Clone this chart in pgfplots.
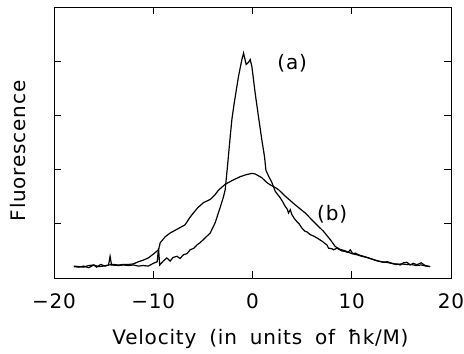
\documentclass[border=0pt]{standalone}
\usepackage{pgfplots}
\pgfplotsset{compat=1.18}
\usepackage{fontspec}
\setmainfont{DejaVu Sans}[LetterSpace=4, WordSpace=1.8]
\begin{document}
\begin{tikzpicture}
\begin{axis}[
  scale only axis, width=397pt, height=271pt,
  at={(0,0)}, anchor=south west,
  xmin=-20, xmax=20, ymin=0, ymax=5,
  xtick={-20,-10,0,10,20},
  xticklabels={−20,−10,0,10,20},
  ytick={1,2,3,4}, yticklabels={},
  tick align=inside, major tick length=7pt,
  xtick pos=both, ytick pos=both,
  axis line style={line width=0.8pt},
  every tick/.style={line width=0.8pt, black},
  font=\fontsize{20}{24}\selectfont,
  xticklabel style={inner sep=0pt, anchor=north, yshift=-15pt},
  xlabel={Velocity (in units of ħk/M)},
  ylabel={Fluorescence},
  xlabel style={at={(axis description cs:0.52,-0.247)}, anchor=base},
  ylabel style={at={(axis description cs:-0.073,0.469)}, anchor=base, rotate=0},
]
% curve (a): narrow
\addplot[black, line width=1.2pt] coordinates {
(-18,0.21) (-17.5,0.20) (-17,0.22) (-16.5,0.19) (-16,0.24) (-15.7,0.20) (-15.3,0.25) (-14.85,0.22) (-14.5,0.24) (-14.35,0.40) (-14.2,0.24) (-13.5,0.23) (-13,0.24) (-12.5,0.23) (-12,0.24) (-11.5,0.22) (-11,0.23) (-10.5,0.22) (-10,0.27) (-9.6,0.30) (-9.47,0.55) (-9.35,0.24) (-9.0,0.31) (-8.63,0.37) (-8.3,0.31) (-8.0,0.38) (-7.6,0.40) (-7.3,0.36) (-6.95,0.43) (-6.6,0.45) (-6.28,0.52) (-5.9,0.55) (-5.6,0.61) (-5.3,0.65) (-4.94,0.71) (-4.6,0.77) (-4.26,0.83) (-3.76,1.02) (-3.26,1.30) (-2.92,1.50) (-2.75,1.63) (-2.5,2.10) (-2.25,2.60) (-2.08,2.92) (-1.84,3.23) (-1.41,3.72) (-1.07,4.03) (-0.9,4.15) (-0.64,3.94) (-0.40,3.98) (-0.23,4.03) (-0.06,3.90) (0.27,3.41) (0.6,2.98) (0.94,2.55) (1.21,2.24) (1.35,1.99) (1.62,1.88) (1.96,1.76) (2.12,1.68) (2.29,1.60) (2.79,1.48) (3.0,1.42) (3.3,1.32) (3.5,1.27) (3.63,1.20) (3.8,1.26) (3.97,1.17) (4.2,1.10) (4.47,1.04) (4.7,1.00) (4.98,0.92) (5.31,0.86) (5.5,0.85) (5.82,0.80) (6.2,0.77) (6.49,0.74) (7.0,0.68) (7.5,0.61) (7.66,0.55) (8.0,0.54) (8.17,0.52) (8.5,0.55) (9.0,0.50) (9.35,0.49) (9.6,0.47) (9.85,0.52) (10.1,0.45) (10.35,0.46) (10.8,0.42) (11.2,0.40) (11.7,0.37) (12.2,0.34) (12.7,0.31) (13.2,0.29) (13.6,0.30) (13.9,0.28) (14.3,0.26) (14.56,0.26) (14.9,0.24) (15.2,0.28) (15.56,0.29) (15.9,0.24) (16.2,0.27) (16.57,0.245) (17.0,0.28) (17.4,0.23) (17.9,0.21)
};
% curve (b): broad
\addplot[black, line width=1.2pt] coordinates {
(-18,0.22) (-17.5,0.21) (-17,0.20) (-16.5,0.23) (-16,0.24) (-15.5,0.21) (-15,0.22) (-14.5,0.24) (-14,0.25) (-13.5,0.24) (-13,0.25) (-12.5,0.25) (-12,0.26) (-11.5,0.30) (-11,0.33) (-10.5,0.37) (-10,0.44) (-9.6,0.50) (-9.47,0.52) (-9.3,0.65) (-8.8,0.76) (-8.3,0.83) (-7.6,0.90) (-6.8,0.98) (-6.3,1.12) (-5.95,1.20) (-5.5,1.30) (-4.94,1.39) (-4.26,1.45) (-3.8,1.53) (-3.43,1.62) (-2.75,1.73) (-1.92,1.81) (-1.24,1.87) (-0.56,1.91) (-0.06,1.93) (0.27,1.92) (0.94,1.85) (1.45,1.76) (1.78,1.72) (2.29,1.67) (2.62,1.63) (3.3,1.51) (4.3,1.35) (5.31,1.20) (6.32,1.01) (7.16,0.86) (7.83,0.71) (8.34,0.58) (8.8,0.53) (9.35,0.50) (10,0.45) (10.5,0.43) (11,0.40) (11.5,0.38) (12,0.35) (12.5,0.32) (13,0.30) (13.5,0.29) (14,0.27) (14.5,0.25) (15,0.26) (15.5,0.25) (16,0.25) (16.5,0.23) (17,0.24) (17.5,0.22) (17.9,0.21)
};
\node[font=\fontsize{20}{24}\selectfont] at (axis cs:4.0,3.97) {(a)};
\node[font=\fontsize{20}{24}\selectfont] at (axis cs:8.03,1.17) {(b)};
\end{axis}
\pgfresetboundingbox
\path (-54pt,-76pt) rectangle (410pt,278pt);
\end{tikzpicture}
\end{document}
